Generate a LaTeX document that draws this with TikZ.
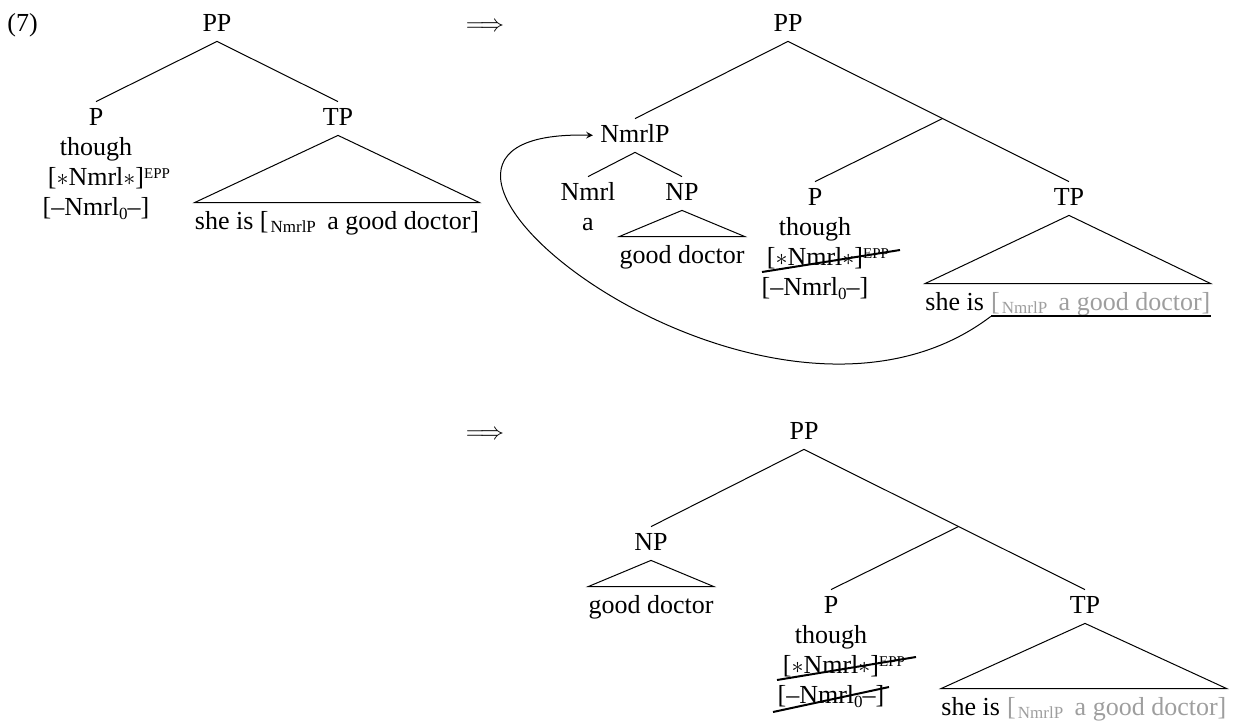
\documentclass[tikz,border=0pt]{standalone}
\usepackage{fontspec}
\setmainfont{Liberation Serif}
\usetikzlibrary{arrows,positioning}
\definecolor{traceg}{gray}{0.62}

\newcommand{\lowsub}[1]{\hspace{1pt}\raisebox{-1.8pt}{\fontsize{8.5}{9}\selectfont #1}\hspace{2.5pt}}
\newcommand{\eppmark}{\rlap{\raisebox{3.5pt}{\fontsize{7.5}{8}\selectfont EPP}}}
\newcommand{\zerosub}{\raisebox{-2pt}{\fontsize{8.5}{9}\selectfont 0}}
\newcommand{\thoughstack}{\begin{tabular}[t]{@{}c@{}}P\\though\\{[}$\ast$Nmrl$\ast${]}\eppmark\\{[}--Nmrl\zerosub--{]}\end{tabular}}

\begin{document}
\begin{tikzpicture}[
    x=0.5pt, y=-0.5pt,
    font=\fontsize{13}{15}\selectfont,
    cat/.style={anchor=base, inner sep=0pt, text height=11.5pt, text depth=5pt},
    yield/.style={anchor=base, inner sep=0pt, text height=13pt, text depth=3pt},
    branch/.style={line width=0.5pt},
    strike/.style={line width=1pt},
    trace/.style={yield, anchor=base west, text=traceg},
    move/.style={->, >=stealth, line width=0.5pt, shorten >=3.5pt}
]
\useasboundingbox (0,0) rectangle (1236,723);

% first tree
\node[anchor=base west, inner sep=0pt] (exnum) at (7,31) {(7)};
\node[cat] (pp1) at (217,31) {PP};
\node[cat] (p1) at (96,125) {\thoughstack};
\node[cat] (tp1) at (338,125) {TP};
\node[yield] (y1) at (337,229) {she is [\lowsub{NmrlP} a good doctor]};
\draw[branch] (pp1.south) -- (p1.north);
\draw[branch] (pp1.south) -- (tp1.north);
\draw[branch] (tp1.south) -- (y1.north east) -- (y1.north west) -- cycle;

% derivation steps
\node[cat] (step1) at (485,31) {$\Longrightarrow$};
\node[cat] (step2) at (485,439) {$\Longrightarrow$};

% second tree
\node[cat] (pp2) at (788,31) {PP};
\node[cat] (nmrlp) at (635,142) {NmrlP};
\node[cat] (nmrl) at (588,200) {\begin{tabular}[t]{@{}c@{}}Nmrl\\a\end{tabular}};
\node[cat] (np2) at (682,200) {NP};
\node[yield] (gd2) at (682,263) {good doctor};
\node[cat] (p2) at (815,205) {\thoughstack};
\node[cat] (tp2) at (1069,205) {TP};
\node[yield, anchor=base west] (she2) at (925,310) {she is};
\node[trace, xshift=3.25pt] (trace2) at (she2.base east) {[\lowsub{NmrlP} a good doctor]};
\draw[branch] (pp2.south) -- (nmrlp.north);
\draw[branch] (pp2.south) -- coordinate[pos=.55] (j2) (tp2.north);
\draw[branch] (j2) -- (p2.north);
\draw[branch] (nmrlp.south) -- (nmrl.north);
\draw[branch] (nmrlp.south) -- (np2.north);
\draw[branch] (np2.south) -- (gd2.north east) -- (gd2.north west) -- cycle;
\draw[branch] (tp2.south) -- (trace2.north east) -- (she2.north west) -- cycle;
\draw[strike] (762,272) -- (900,250);
\draw[strike] (trace2.south west) -- (trace2.south east);
\draw[move] (trace2.south west) .. controls +(-230,175) and +(-290,-8) .. (nmrlp.west);

% third tree
\node[cat] (pp3) at (804,439) {PP};
\node[cat] (np3) at (651,550) {NP};
\node[yield] (gd3) at (651,613) {good doctor};
\node[cat] (p3) at (831,613) {\thoughstack};
\node[cat] (tp3) at (1085,613) {TP};
\node[yield, anchor=base west] (she3) at (941,715) {she is};
\node[trace, xshift=3.25pt] (trace3) at (she3.base east) {[\lowsub{NmrlP} a good doctor]};
\draw[branch] (pp3.south) -- (np3.north);
\draw[branch] (pp3.south) -- coordinate[pos=.55] (j3) (tp3.north);
\draw[branch] (j3) -- (p3.north);
\draw[branch] (np3.south) -- (gd3.north east) -- (gd3.north west) -- cycle;
\draw[branch] (tp3.south) -- (trace3.north east) -- (she3.north west) -- cycle;
\draw[strike] (777,680) -- (916,657);
\draw[strike] (773,712) -- (889,687);
\end{tikzpicture}
\end{document}
